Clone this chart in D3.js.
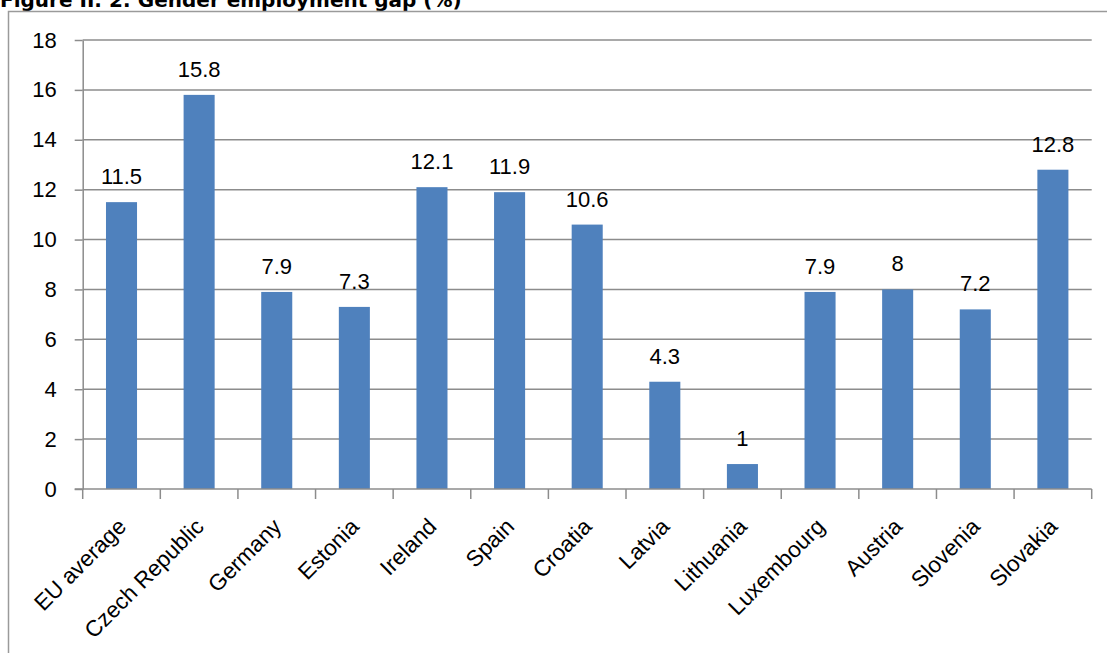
<!DOCTYPE html>
<html>
<head>
<meta charset="utf-8">
<script src="https://cdn.jsdelivr.net/npm/d3@7"></script>
<style>
  html, body { margin: 0; padding: 0; background: #fff; }
  svg { display: block; }
</style>
</head>
<body>
<svg id="chart" width="1107" height="653"></svg>
<script>
// Gender employment gap, percentage points
const categories = ["EU average", "Czech Republic", "Germany", "Estonia", "Ireland", "Spain",
  "Croatia", "Latvia", "Lithuania", "Luxembourg", "Austria", "Slovenia", "Slovakia"];
const values = [11.5, 15.8, 7.9, 7.3, 12.1, 11.9, 10.6, 4.3, 1, 7.9, 8, 7.2, 12.8];
const valueLabels = ["11.5", "15.8", "7.9", "7.3", "12.1", "11.9", "10.6", "4.3", "1", "7.9", "8", "7.2", "12.8"];
const yTicks = [0, 2, 4, 6, 8, 10, 12, 14, 16, 18];

const svg = d3.select("#chart");
const font = "'Liberation Sans', Arial, sans-serif";
const grey = "#8c8c8c";

// title, partly above the top edge
svg.append("text")
  .attr("x", 0).attr("y", 7)
  .attr("font-family", "'DejaVu Sans', Verdana, sans-serif")
  .attr("font-weight", "bold")
  .attr("font-size", 20)
  .text("Figure II. 2: Gender employment gap (%)");

// outer chart frame
svg.append("path")
  .attr("d", "M8.5,660 V11.5 H1120")
  .attr("fill", "none")
  .attr("stroke", "#9a9a9a")
  .attr("stroke-width", 1.5);

const plot = { left: 82.7, right: 1091.7, top: 40, bottom: 489 };

const x = d3.scaleBand().domain(categories).range([plot.left, plot.right]).padding(0);
const y = d3.scaleLinear().domain([0, 18]).range([plot.bottom, plot.top]);

// horizontal gridlines
svg.append("g")
  .selectAll("line")
  .data(yTicks.filter(d => d > 0))
  .join("line")
  .attr("x1", plot.left).attr("x2", plot.right)
  .attr("y1", d => y(d)).attr("y2", d => y(d))
  .attr("stroke", grey).attr("stroke-width", 1.5);

// y axis
const yAxis = svg.append("g")
  .attr("transform", `translate(${plot.left},0)`)
  .call(d3.axisLeft(y).tickValues(yTicks).tickSize(8).tickPadding(18).tickSizeOuter(0));
yAxis.select(".domain").attr("stroke", grey).attr("stroke-width", 1.5);
yAxis.selectAll(".tick line").attr("stroke", grey).attr("stroke-width", 1.5);
yAxis.selectAll(".tick text")
  .attr("font-family", font).attr("font-size", 22).attr("fill", "#000");

const rows = categories.map((c, i) => ({ c, v: values[i], label: valueLabels[i] }));

// bars
const barW = x.bandwidth() * 0.4;
svg.append("g")
  .selectAll("rect")
  .data(rows)
  .join("rect")
  .attr("x", d => x(d.c) + (x.bandwidth() - barW) / 2)
  .attr("width", barW)
  .attr("y", d => y(d.v))
  .attr("height", d => y(0) - y(d.v))
  .attr("fill", "#4f81bd");

// value labels
svg.append("g")
  .selectAll("text")
  .data(rows)
  .join("text")
  .attr("x", d => x(d.c) + x.bandwidth() / 2)
  .attr("y", d => y(d.v) - 18)
  .attr("text-anchor", "middle")
  .attr("font-family", font).attr("font-size", 22)
  .text(d => d.label);

// x axis baseline and category boundary ticks
const xAxisG = svg.append("g");
xAxisG.append("line")
  .attr("x1", plot.left - 8).attr("x2", plot.right)
  .attr("y1", y(0)).attr("y2", y(0))
  .attr("stroke", grey).attr("stroke-width", 1.5);
const bounds = categories.map(c => x(c)).concat([plot.right]);
xAxisG.selectAll("line.tick")
  .data(bounds)
  .join("line")
  .attr("class", "tick")
  .attr("x1", d => d).attr("x2", d => d)
  .attr("y1", y(0)).attr("y2", y(0) + 10)
  .attr("stroke", grey).attr("stroke-width", 1.5);

// rotated category labels
xAxisG.selectAll("text")
  .data(categories)
  .join("text")
  .attr("transform", c => `translate(${x(c) + x.bandwidth() / 2 + 6},528) rotate(-45)`)
  .attr("text-anchor", "end")
  .attr("font-family", font).attr("font-size", 22.5)
  .text(c => c);
</script>
</body>
</html>
